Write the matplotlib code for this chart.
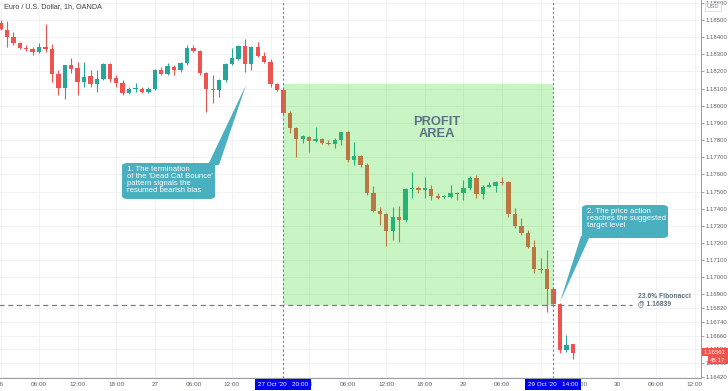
"""EUR/USD 1h candles with a 'profit area' box and two callouts (TradingView look)."""

import matplotlib

matplotlib.use("Agg")
import matplotlib.pyplot as plt
import numpy as np
from matplotlib.patches import FancyBboxPatch, Polygon, Rectangle

plt.rcParams["font.family"] = ["Liberation Sans", "DejaVu Sans"]

# hourly candles from 26 Oct 00:00 onwards
opens = [
    1.18484, 1.18442, 1.18399, 1.18364, 1.18337, 1.18329, 1.18312, 1.18341, 1.18333, 1.18185,
    1.18105, 1.18238, 1.18218, 1.18137, 1.18173, 1.18127, 1.18156, 1.18243, 1.18160, 1.18134,
    1.18073, 1.18096, 1.18099, 1.18079, 1.18096, 1.18209, 1.18185, 1.18228, 1.18209, 1.18248,
    1.18335, 1.18321, 1.18189, 1.18098, 1.18090, 1.18148, 1.18242, 1.18273, 1.18350, 1.18243,
    1.18341, 1.18292, 1.18257, 1.18125, 1.18092, 1.17956, 1.17872, 1.17804, 1.17820, 1.17796,
    1.17804, 1.17785, 1.17775, 1.17800, 1.17845, 1.17684, 1.17709, 1.17655, 1.17493, 1.17388,
    1.17369, 1.17272, 1.17353, 1.17334, 1.17513, 1.17519, 1.17511, 1.17515, 1.17474, 1.17466,
    1.17466, 1.17493, 1.17490, 1.17519, 1.17577, 1.17484, 1.17528, 1.17534, 1.17556, 1.17554,
    1.17369, 1.17299, 1.17260, 1.17178, 1.17047, 1.17047, 1.16930, 1.16844, 1.16576, 1.16609,
]
highs = [
    1.18500, 1.18494, 1.18432, 1.18373, 1.18354, 1.18344, 1.18364, 1.18477, 1.18360, 1.18209,
    1.18240, 1.18277, 1.18257, 1.18257, 1.18209, 1.18209, 1.18248, 1.18251, 1.18179, 1.18150,
    1.18111, 1.18131, 1.18111, 1.18111, 1.18213, 1.18228, 1.18251, 1.18238, 1.18257, 1.18354,
    1.18354, 1.18325, 1.18199, 1.18179, 1.18154, 1.18248, 1.18335, 1.18354, 1.18387, 1.18348,
    1.18373, 1.18315, 1.18271, 1.18131, 1.18102, 1.17971, 1.17878, 1.17830, 1.17824, 1.17878,
    1.17810, 1.17800, 1.17810, 1.17849, 1.17855, 1.17791, 1.17713, 1.17665, 1.17532, 1.17412,
    1.17373, 1.17412, 1.17416, 1.17519, 1.17616, 1.17532, 1.17586, 1.17538, 1.17490, 1.17480,
    1.17538, 1.17499, 1.17567, 1.17591, 1.17596, 1.17538, 1.17557, 1.17563, 1.17586, 1.17563,
    1.17402, 1.17344, 1.17276, 1.17217, 1.17111, 1.17159, 1.16945, 1.16848, 1.16664, 1.16613,
]
lows = [
    1.18442, 1.18344, 1.18354, 1.18329, 1.18321, 1.18296, 1.18306, 1.18315, 1.18140, 1.18063,
    1.18038, 1.18189, 1.18063, 1.18111, 1.18111, 1.18082, 1.18150, 1.18140, 1.18111, 1.18063,
    1.18069, 1.18082, 1.18073, 1.18073, 1.18092, 1.18179, 1.18179, 1.18179, 1.18199, 1.18238,
    1.18315, 1.18179, 1.17965, 1.18014, 1.18049, 1.18140, 1.18238, 1.18267, 1.18199, 1.18209,
    1.18286, 1.18248, 1.18111, 1.18088, 1.17946, 1.17839, 1.17700, 1.17781, 1.17732, 1.17791,
    1.17777, 1.17771, 1.17752, 1.17771, 1.17674, 1.17655, 1.17645, 1.17480, 1.17382, 1.17303,
    1.17184, 1.17217, 1.17208, 1.17324, 1.17460, 1.17490, 1.17460, 1.17451, 1.17455, 1.17460,
    1.17460, 1.17451, 1.17451, 1.17509, 1.17460, 1.17455, 1.17525, 1.17499, 1.17538, 1.17353,
    1.17286, 1.17247, 1.17169, 1.17023, 1.17023, 1.16799, 1.16838, 1.16557, 1.16566, 1.16522,
]
closes = [
    1.18446, 1.18401, 1.18364, 1.18337, 1.18329, 1.18312, 1.18341, 1.18333, 1.18185, 1.18105,
    1.18238, 1.18214, 1.18137, 1.18169, 1.18127, 1.18156, 1.18243, 1.18156, 1.18134, 1.18073,
    1.18099, 1.18102, 1.18079, 1.18098, 1.18209, 1.18185, 1.18232, 1.18209, 1.18251, 1.18335,
    1.18321, 1.18189, 1.18096, 1.18090, 1.18150, 1.18242, 1.18277, 1.18350, 1.18243, 1.18341,
    1.18292, 1.18253, 1.18125, 1.18092, 1.17960, 1.17872, 1.17804, 1.17824, 1.17795, 1.17806,
    1.17785, 1.17777, 1.17800, 1.17845, 1.17684, 1.17709, 1.17655, 1.17493, 1.17386, 1.17367,
    1.17272, 1.17350, 1.17334, 1.17515, 1.17519, 1.17509, 1.17519, 1.17474, 1.17464, 1.17472,
    1.17490, 1.17487, 1.17519, 1.17577, 1.17484, 1.17528, 1.17538, 1.17554, 1.17548, 1.17369,
    1.17299, 1.17260, 1.17178, 1.17047, 1.17043, 1.16930, 1.16844, 1.16576, 1.16605, 1.16561,
]

x_tick_hours = list(range(0, 109, 6))
x_tick_labels = ["26", "06:00", "12:00", "18:00", "27", "06:00", "12:00", "18:00", "28", "06:00",
                 "12:00", "18:00", "29", "06:00", "12:00", "18:00", "30", "06:00", "12:00"]
y_ticks = [1.186, 1.185, 1.184, 1.183, 1.182, 1.181, 1.180, 1.179, 1.178, 1.177, 1.176, 1.175,
           1.174, 1.173, 1.172, 1.171, 1.170, 1.169, 1.1682, 1.1674, 1.1666, 1.1658, 1.1650, 1.1642]

entry_hour = 44          # 27 Oct '20 20:00
target_hour = 86         # 29 Oct '20 14:00
area_top = 1.18127
fib_level = 1.16839
last_price = 1.16561

UP = "#26a69a"
DOWN = "#ef5350"
W, H = 728, 391
AX_W, AX_H = 701, 378

fig = plt.figure(figsize=(W / 100, H / 100), dpi=100)
ax = fig.add_axes([0, (H - AX_H) / H, AX_W / W, AX_H / H])

hours = np.arange(len(opens))
o = np.array(opens)
c = np.array(closes)
colors = np.where(c >= o, UP, DOWN)
bottoms = np.minimum(o, c)
heights = np.maximum(np.abs(c - o), 0.000025)

ax.vlines(hours, lows, highs, colors=colors, linewidth=0.8, zorder=2)
ax.bar(hours, heights, bottom=bottoms, width=0.68, color=colors, linewidth=0, zorder=2)

# profit area, drawn over the candles like the TradingView rectangle
ax.add_patch(Rectangle((entry_hour, fib_level), target_hour - entry_hour, area_top - fib_level,
                       facecolor=(43 / 255, 220 / 255, 24 / 255), alpha=0.26, linewidth=0, zorder=3))
ax.text(437 / AX_W, 1 - 128 / AX_H, "PROFIT\nAREA", transform=ax.transAxes, ha="center", va="center",
        fontsize=9.3, fontweight="bold", color="#5b7283", linespacing=1.05, zorder=5)

ax.plot([-1, (632 - 0.5) / 6.43], [fib_level, fib_level], color="#7d7d7d", linewidth=0.9,
        dashes=(4, 3), zorder=4)
ax.text(638 / AX_W, 1 - 300 / AX_H, "23.6% Fibonacci\n@ 1.16839", transform=ax.transAxes,
        ha="left", va="center", fontsize=4.9, fontweight="bold", color="#5f6f7e", linespacing=1.0, zorder=5)

for h in (entry_hour, target_hour):
    ax.axvline(h, color="#7a6fd8", linewidth=0.8, dashes=(2, 2), zorder=4)


def callout(box, tip_poly, lines):
    x0, y0, x1, y1 = box
    ax.add_patch(FancyBboxPatch((x0 / AX_W, 1 - y1 / AX_H), (x1 - x0) / AX_W, (y1 - y0) / AX_H,
                                boxstyle="round,pad=0,rounding_size=0.008", transform=ax.transAxes,
                                facecolor="#4aafbe", edgecolor="none", zorder=6))
    pts = [(px / AX_W, 1 - py / AX_H) for px, py in tip_poly]
    ax.add_patch(Polygon(pts, closed=True, transform=ax.transAxes, facecolor="#4aafbe",
                         edgecolor="none", zorder=6))
    ax.text((x0 + 5) / AX_W, 1 - (y0 + 3) / AX_H, lines, transform=ax.transAxes, ha="left", va="top",
            fontsize=5.6, color="white", linespacing=1.0, zorder=7)


callout((122, 163, 215, 199), [(208, 165), (219, 165), (246, 85)],
        "1. The termination\nof the 'Dead Cat Bounce'\npattern signals the\nresumed bearish bias")
callout((582, 205, 668, 238), [(581, 236), (590, 236), (560, 302)],
        "2. The price action\nreaches the suggested\ntarget level")

ax.set_xlim(-0.5 / 6.43, (AX_W - 0.5) / 6.43)
ax.set_ylim(1.185 - (AX_H - 20) * 0.0000583, 1.185 + 20 * 0.0000583)

ax.set_xticks(x_tick_hours)
ax.set_xticklabels(x_tick_labels)
ax.set_yticks(y_ticks)
ax.set_yticklabels([f"{v:.5f}" for v in y_ticks])
ax.yaxis.tick_right()
ax.tick_params(axis="y", length=2.2, width=0.6, color="#9598a1", labelsize=4.3, labelcolor="#5d606b", pad=1)
ax.tick_params(axis="x", length=0, labelsize=4.6, labelcolor="#5d606b", pad=3)
ax.grid(True, color="#eef0f4", linewidth=0.6, zorder=0)
ax.set_axisbelow(True)
for side in ("top", "left"):
    ax.spines[side].set_visible(False)
for side in ("right", "bottom"):
    ax.spines[side].set_color("#9598a1")
    ax.spines[side].set_linewidth(0.7)

# title and axis badges
fig.text(4 / W, 1 - 7 / H, "Euro / U.S. Dollar, 1h, OANDA", ha="left", va="center", fontsize=5.2,
         color="#3d3f45")
fig.text(713 / W, 1 - 7 / H, "USD", ha="center", va="center", fontsize=4.2, color="#787b86",
         bbox=dict(boxstyle="square,pad=0.25", facecolor="white", edgecolor="#d1d4dc", linewidth=0.5))
fig.text(715 / W, 1 - 352 / H, f"{last_price:.5f}", ha="center", va="center", fontsize=4.4, color="white",
         bbox=dict(boxstyle="square,pad=0.3", facecolor=DOWN, edgecolor="none"))
fig.text(718 / W, 1 - 360 / H, "45:17", ha="center", va="center", fontsize=4.4, color="white",
         bbox=dict(boxstyle="square,pad=0.3", facecolor=DOWN, edgecolor="none"))
for h, label in ((entry_hour, "27 Oct '20   20:00"), (target_hour, "29 Oct '20   14:00")):
    fx = (0.5 + 6.43 * h) / W
    fig.text(fx, 1 - 384.5 / H, label, ha="center", va="center", fontsize=4.6, color="white",
             bbox=dict(boxstyle="square,pad=0.45", facecolor="#0000f0", edgecolor="none"))

fig.savefig("out.png", dpi=100)
